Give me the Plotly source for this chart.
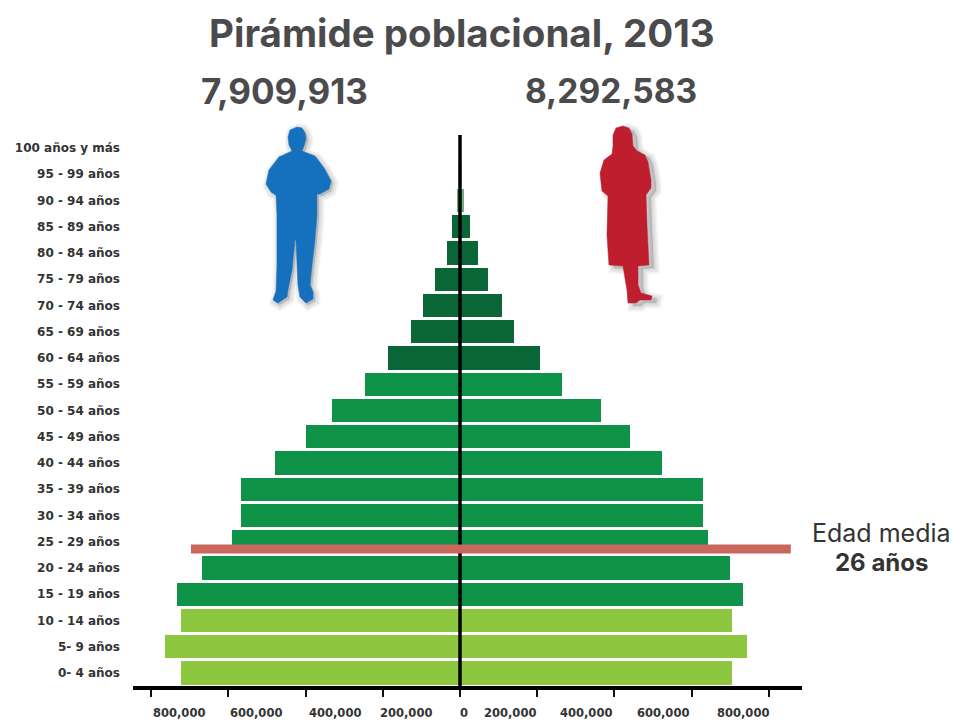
import plotly.graph_objects as go

age_groups = ["0- 4 años","5- 9 años","10 - 14 años","15 - 19 años","20 - 24 años","25 - 29 años",
              "30 - 34 años","35 - 39 años","40 - 44 años","45 - 49 años","50 - 54 años","55 - 59 años",
              "60 - 64 años","65 - 69 años","70 - 74 años","75 - 79 años","80 - 84 años","85 - 89 años",
              "90 - 94 años","95 - 99 años","100 años y más"]
men = [722800,764000,722800,733000,668000,590700,567000,567000,479000,399000,331600,246000,
       186500,127000,95900,64800,33700,20700,7800,3500,1500]
women = [704700,743500,704700,733000,699500,642500,629500,629500,523300,440400,365300,264300,
         207300,139900,108800,72500,46600,25900,10400,3500,1500]
bar_colors = ["#8dc63f"]*3 + ["#0d9247"]*9 + ["#0b6637"]*6 + ["#6fae7f","#d5e8d5","#eef5ee"]
x_ticks = [-800000,-600000,-400000,-200000,0,200000,400000,600000,800000]
x_tick_text = ["800,000","600,000","400,000","200,000","0","200,000","400,000","600,000","800,000"]
median_row = 4.72
median_span = [-697000,857000]

W,H = 954,722
L,R,T,B = 133,802,135,686
PER = 200000/77.2
X0 = 460
FONT = "Inter"
GREY = "#4b4b4d"

def px_x(p): return (p-L)/(R-L)
def px_y(p): return (B-p)/(B-T)
def path(points, dx=0, dy=0):
    s = ""
    for i,(a,b) in enumerate(points):
        s += ("M" if i==0 else "L") + f"{px_x(a+dx):.4f},{px_y(b+dy):.4f} "
    return s + "Z"

man_outline = [(297,127),(302,128),(305,133),(306,139),(304,146),(302,151),(315,156),(324,168),(331,181),(329,189),(320,194),
  (317,194),(317,215),(315,240),(312,265),(310,285),(313,292),(313,299),(306,303),(300,297),(298,285),(296,240),(295,240),
  (292,270),(288,290),(287,297),(278,303),(273,300),(276,291),(277,265),(277,215),(276,195),(271,192),(266,184),(269,170),
  (279,157),(292,151),(289,145),(288,137),(290,130)]
woman_outline = [(623,126),(629,128),(632,134),(633,146),(637,151),(645,155),(648,162),(651,180),(651,188),(646,195),(647,225),(649,265),
  (638,266),(638,285),(641,293),(652,296),(651,300),(640,300),(636,303),(628,303),(627,290),(623,266),(609,265),(607,235),(608,196),
  (602,191),(600,173),(604,160),(612,154),(613,146),(613,135),(616,128)]

fig = go.Figure()
fig.add_bar(y=list(range(21)), x=[-v for v in men], orientation="h", width=0.88,
            marker=dict(color=bar_colors, line=dict(width=0)), showlegend=False)
fig.add_bar(y=list(range(21)), x=women, orientation="h", width=0.88,
            marker=dict(color=bar_colors, line=dict(width=0)), showlegend=False)

shapes = []
for outline,color,off in [(man_outline,"#1570bd",(2,2)),(woman_outline,"#be1e2d",(5,3))]:
    for w in [11,8,5,2]:
        shapes.append(dict(type="path", xref="paper", yref="paper", layer="below", path=path(outline,off[0],off[1]),
                           fillcolor="rgba(70,70,70,0.06)", line=dict(color="rgba(70,70,70,0.06)", width=w)))
    shapes.append(dict(type="path", xref="paper", yref="paper", layer="above", path=path(outline),
                       fillcolor=color, line=dict(color=color, width=0.5)))
shapes.append(dict(type="line", xref="x", yref="paper", x0=0, x1=0, y0=0, y1=1, layer="above",
                   line=dict(color="#000000", width=3.5)))
shapes.append(dict(type="line", xref="x", yref="y", x0=median_span[0], x1=median_span[1], y0=median_row, y1=median_row,
                   layer="above", line=dict(color="#c9675e", width=9)))

ann = []
def text(x,y,t,size,color=GREY,bold=True,family=FONT):
    ann.append(dict(xref="paper", yref="paper", x=px_x(x), y=px_y(y), text=f"<b>{t}</b>" if bold else t, showarrow=False,
                    xanchor="center", yanchor="middle", font=dict(family=family,size=size,color=color)))
text(462,33,"Pirámide poblacional, 2013",38.5)
text(284,91,"7,909,913",35)
text(611,91,"8,292,583",33.5)
text(881,533,"Edad media",25,"#333333",False)
text(881,562,"26 años",24,"#333333",True)
offsets = [28,28,29,23,4,-27,-28,-29,-26]
for v,t,o in zip(x_ticks,x_tick_text,offsets):
    text(X0+v/PER+o,713,t,11.5,"#333333",True,"DejaVu Sans")

fig.update_layout(
    width=W,height=H,margin=dict(l=L,r=W-R,t=T,b=H-B,autoexpand=False),
    paper_bgcolor="white",plot_bgcolor="white",barmode="overlay",bargap=0,
    shapes=shapes,annotations=ann,font=dict(family=FONT),showlegend=False,
    xaxis=dict(range=[(L-X0)*PER,(R-X0)*PER],tickvals=x_ticks,showticklabels=False,ticks="outside",ticklen=7,tickwidth=2,
               tickcolor="#111111",showline=True,linecolor="#000000",linewidth=4,showgrid=False,zeroline=False),
    yaxis=dict(range=[-13/26.25,538/26.25],tickmode="array",tickvals=list(range(21)),ticktext=age_groups,ticks="",
               ticklabelstandoff=12,tickfont=dict(family="DejaVu Sans",size=12,color="#333333",weight=700),
               showgrid=False,zeroline=False,showline=False),
)
fig.write_html("out.html", post_script="document.body.style.margin='0';", config=dict(displayModeBar=False))
